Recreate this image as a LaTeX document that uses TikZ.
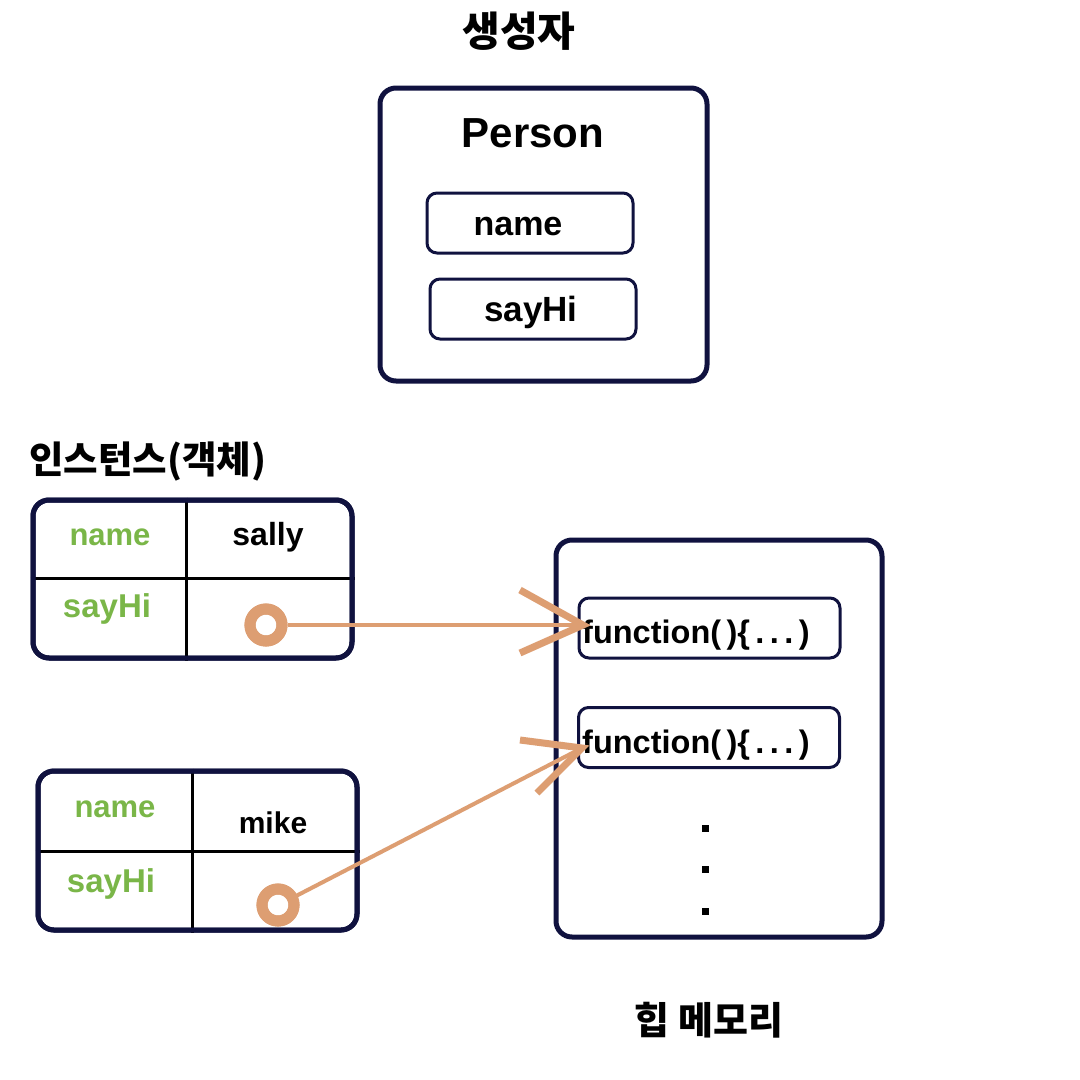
\documentclass[tikz,border=0pt]{standalone}
\usepackage{fontspec}
\setmainfont{Liberation Sans}
\newfontfamily\kr{Noto Sans CJK KR}
\usetikzlibrary{calc}
\definecolor{navy}{HTML}{10123F}
\definecolor{grn}{HTML}{7AB648}
\definecolor{org}{HTML}{DD9E72}
\newcommand{\fs}[1]{\fontsize{#1}{#1}\selectfont\bfseries}
\begin{document}
\begin{tikzpicture}[x=1pt,y=-1pt,
  bigbox/.style={draw=navy, line width=5pt, rounded corners=16pt, inner sep=0pt},
  smallbox/.style={draw=navy, line width=3pt, rounded corners=10pt, inner sep=0pt, minimum width=206pt, minimum height=60pt},
  funcbox/.style={draw=navy, line width=3pt, rounded corners=10pt, inner sep=0pt, minimum width=261pt, minimum height=60pt},
  divider/.style={draw=black, line width=3pt},
  ring/.style={circle, draw=org, line width=11pt, minimum size=32pt, inner sep=0pt},
  link/.style={draw=org, line width=4pt},
  barb/.style={draw=org, line width=7pt},
  txt/.style={inner sep=0pt, anchor=center},
  dot/.style={fill=black, minimum size=7pt, inner sep=0pt}
]
\useasboundingbox (0,0) rectangle (1080,1080);
\fill[white] (0,0) rectangle (1080,1080);

% constructor
\node[txt] (tctor) at (519,31) {\kr\fs{41}생성자};
\node[bigbox, minimum width=327pt, minimum height=293pt] (person) at (543.5,234.5) {};
\node[txt] (tperson) at (533,133) {\fs{42}Person};
\node[smallbox] (pname) at (530,223) {};
\node[txt] (tpname) at (518,227) {\fs{34}name};
\node[smallbox] (psay) at (533,309) {};
\node[txt] (tpsay) at (531,312) {\fs{35}sayHi};

% instances
\node[txt, anchor=west] (tinst) at (29,462) {\kr\fs{37.5}인스턴스(객체)};

% sally table
\coordinate (sv) at (186,0);
\coordinate (sh) at (0,578);
\node[bigbox, minimum width=319pt, minimum height=158pt] (sally) at (192.5,579) {};
\draw[divider] (sally.north -| sv) -- (sally.south -| sv);
\draw[divider] (sally.west |- sh) -- (sally.east |- sh);
\node[bigbox, minimum width=319pt, minimum height=158pt] at (192.5,579) {};
\node[txt, text=grn] (sname) at (110,537) {\fs{31}name};
\node[txt] (sval) at (268,537) {\fs{32}sally};
\node[txt, text=grn] (ssay) at (107,609) {\fs{33}sayHi};

% mike table
\coordinate (mv) at (192,0);
\coordinate (mh) at (0,851);
\node[bigbox, minimum width=319pt, minimum height=159pt] (mike) at (197.5,850.5) {};
\draw[divider] (mike.north -| mv) -- (mike.south -| mv);
\draw[divider] (mike.west |- mh) -- (mike.east |- mh);
\node[bigbox, minimum width=319pt, minimum height=159pt] at (197.5,850.5) {};
\node[txt, text=grn] (mname) at (115,809) {\fs{31}name};
\node[txt] (mval) at (273,823) {\fs{30}mike};
\node[txt, text=grn] (msay) at (111,884) {\fs{33}sayHi};

% heap
\node[bigbox, minimum width=326pt, minimum height=397pt] (heap) at (719,738.5) {};
\node[funcbox] (f1) at (709.5,628) {};
\node[funcbox] (f2) at (709,737.5) {};
\node[txt, anchor=west] (tf1) at (582,635) {\fs{32.5}function(\,)\{\,.\,.\,.\,)};
\node[txt, anchor=west] (tf2) at (582,745) {\fs{32.5}function(\,)\{\,.\,.\,.\,)};
\node[dot] (d1) at (705,828) {};
\node[dot] (d2) at (705,869) {};
\node[dot] (d3) at (705,911) {};
\node[txt] (theap) at (709,1020) {\kr\fs{38}힙 메모리};

% pointers
\node[ring] (r1) at (266,625) {};
\node[ring] (r2) at (278,905) {};
\coordinate (tip1) at (583,625);
\coordinate (tip2) at (582,748);
\draw[link] (r1.east) -- (tip1);
\draw[link] (r2) ++(18,-9) -- (tip2);
\draw[barb, line cap=butt] ($(tip1)+(-63,-35)$) -- (tip1) -- ($(tip1)+(-63,28)$);
\draw[barb, line cap=butt] ($(tip2)+(-62,-8)$) -- (tip2) -- ($(tip2)+(-45,45)$);
\node[ring] at (266,625) {};
\node[ring] at (278,905) {};
\end{tikzpicture}
\end{document}
